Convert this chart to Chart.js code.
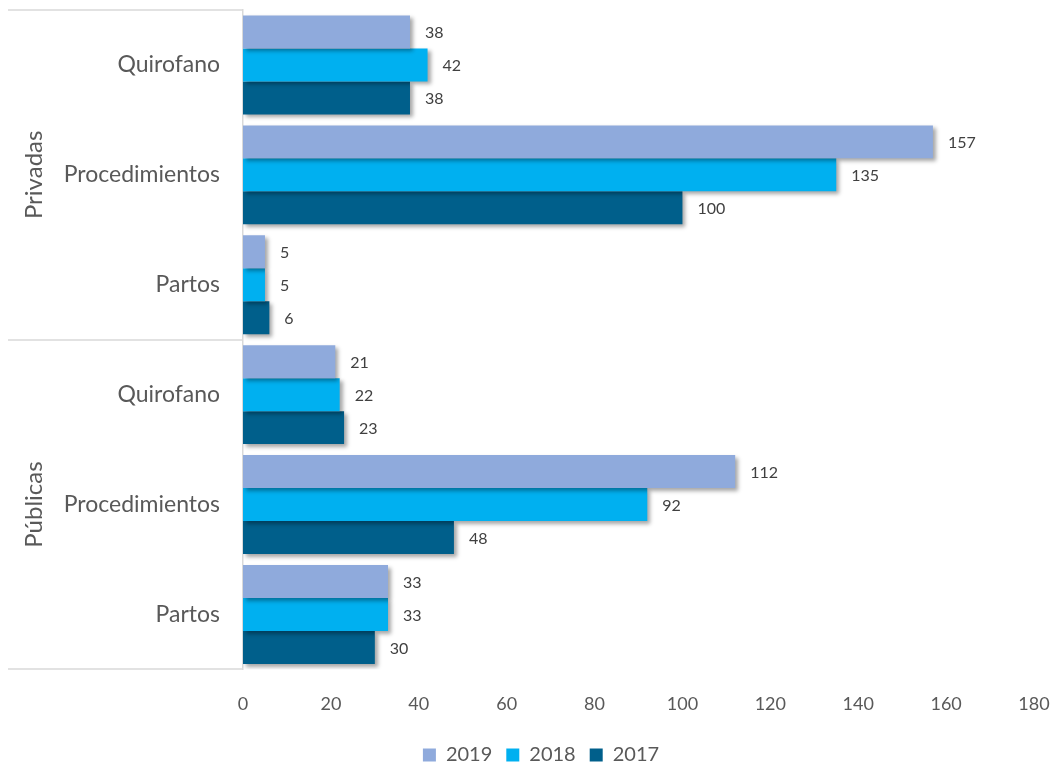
<!DOCTYPE html>
<html>
<head>
<meta charset="utf-8">
<script src="https://cdn.jsdelivr.net/npm/chart.js@4"></script>
<style>
  html, body { margin: 0; padding: 0; background: #fff; }
  #wrap { width: 1052px; height: 767px; position: relative; }
</style>
</head>
<body>
<div id="wrap"><canvas id="barChart"></canvas></div>
<script>
// ---------- DATA ----------
const categories = ["Quirofano", "Procedimientos", "Partos", "Quirofano", "Procedimientos", "Partos"];
const groups = ["Privadas", "Públicas"];      // each group covers 3 categories
const groupSize = 3;
const seriesNames = ["2019", "2018", "2017"];
const values2019 = [38, 157, 5, 21, 112, 33];
const values2018 = [42, 135, 5, 22, 92, 33];
const values2017 = [38, 100, 6, 23, 48, 30];
const xTicks = [0, 20, 40, 60, 80, 100, 120, 140, 160, 180];

const colors = ["#8FAADC", "#00B0F0", "#005F8B"];
const textColor = "#595959";
const lineColor = "#D9D9D9";

Chart.defaults.font.family = "Lato, 'Open Sans', sans-serif";
Chart.defaults.color = textColor;

// ---------- PLUGINS ----------
// drop shadow under bars
const barShadow = {
  id: "barShadow",
  beforeDatasetsDraw(chart) {
    const ctx = chart.ctx;
    ctx.save();
    ctx.shadowColor = "rgba(0,0,0,0.35)";
    ctx.shadowBlur = 4;
    ctx.shadowOffsetX = 3;
    ctx.shadowOffsetY = 3;
  },
  afterDatasetsDraw(chart) {
    chart.ctx.restore();
  }
};

// value labels right of each bar
const valueLabels = {
  id: "valueLabels",
  afterDatasetsDraw(chart) {
    const ctx = chart.ctx;
    ctx.save();
    ctx.font = "16px Lato, 'Open Sans', sans-serif";
    ctx.fillStyle = "#404040";
    ctx.textAlign = "left";
    ctx.textBaseline = "middle";
    chart.data.datasets.forEach((ds, i) => {
      chart.getDatasetMeta(i).data.forEach((bar, j) => {
        ctx.fillText(ds.data[j], bar.x + 15, bar.y + 1);
      });
    });
    ctx.restore();
  }
};

// group labels + separator lines on the left
const groupAxis = {
  id: "groupAxis",
  afterDraw(chart) {
    const ctx = chart.ctx;
    const y = chart.scales.y;
    const left = 8;
    const right = chart.chartArea.left;
    const half = (y.getPixelForValue(1) - y.getPixelForValue(0)) / 2;
    ctx.save();
    ctx.strokeStyle = lineColor;
    ctx.lineWidth = 1.5;
    for (let g = 0; g <= groups.length; g++) {
      const py = Math.round(y.getPixelForValue(g * groupSize) - half);
      ctx.beginPath();
      ctx.moveTo(left, py);
      ctx.lineTo(right, py);
      ctx.stroke();
    }
    ctx.fillStyle = textColor;
    ctx.font = "24px Lato, 'Open Sans', sans-serif";
    ctx.textAlign = "center";
    ctx.textBaseline = "middle";
    groups.forEach((name, g) => {
      const top = y.getPixelForValue(g * groupSize) - half;
      const bot = y.getPixelForValue((g + 1) * groupSize - 1) + half;
      ctx.save();
      ctx.translate(34, (top + bot) / 2);
      ctx.rotate(-Math.PI / 2);
      ctx.fillText(name, 0, 0);
      ctx.restore();
    });
    ctx.restore();
  }
};

// nudge the legend a bit right, like the original
const legendShift = {
  id: "legendShift",
  afterLayout(chart) {
    if (chart.legend) {
      chart.legend.left += 24;
      chart.legend.right += 24;
    }
  }
};

// ---------- CHART ----------
new Chart(document.getElementById("barChart"), {
  type: "bar",
  data: {
    labels: categories,
    datasets: [
      { label: seriesNames[0], data: values2019, backgroundColor: colors[0] },
      { label: seriesNames[1], data: values2018, backgroundColor: colors[1] },
      { label: seriesNames[2], data: values2017, backgroundColor: colors[2] }
    ]
  },
  options: {
    indexAxis: "y",
    responsive: true,
    maintainAspectRatio: false,
    animation: false,
    layout: { padding: { top: 10, right: 18, left: 0, bottom: -8 } },
    datasets: { bar: { categoryPercentage: 0.9, barPercentage: 1.0 } },
    scales: {
      x: {
        min: 0,
        max: 180,
        grid: { display: false },
        border: { display: false },
        afterBuildTicks(scale) {
          scale.ticks = xTicks.map(v => ({ value: v }));
        },
        afterFit(scale) { scale.paddingLeft = 0; scale.paddingRight = 0; },
        ticks: { padding: 16, font: { size: 18 }, color: textColor }
      },
      y: {
        grid: { display: false },
        border: { display: true, color: lineColor, width: 1.5 },
        ticks: { padding: 15, font: { size: 23 }, color: textColor },
        afterFit(scale) {
          scale.width = 243;
          scale.paddingTop = 0;
          scale.paddingBottom = 0;
        }
      }
    },
    plugins: {
      legend: {
        position: "bottom",
        labels: { boxWidth: 13, boxHeight: 13, padding: 14, font: { size: 20 }, color: textColor }
      },
      tooltip: { enabled: false }
    }
  },
  plugins: [barShadow, valueLabels, groupAxis, legendShift]
});
</script>
</body>
</html>
